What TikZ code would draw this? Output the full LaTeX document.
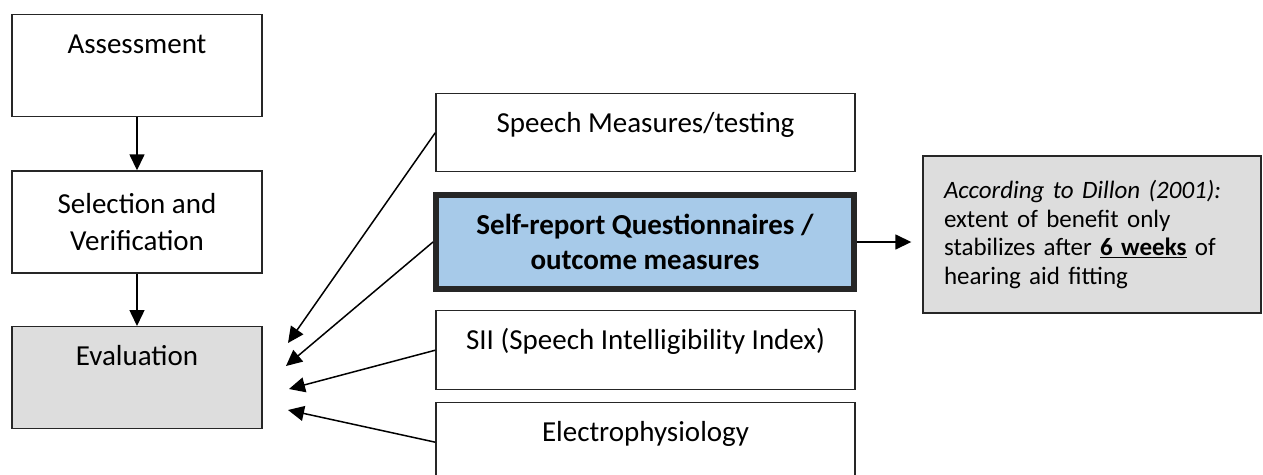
\documentclass[tikz,border=0pt]{standalone}
\usepackage{fontspec}
\setmainfont{Carlito}
\usetikzlibrary{arrows.meta}
\definecolor{evalgray}{RGB}{221,221,221}
\definecolor{selfblue}{RGB}{167,202,233}
\begin{document}
\begin{tikzpicture}[x=1pt,y=-1pt,
  every node/.style={font=\fontsize{29}{37}\selectfont},
  box/.style={draw=black!85,line width=1.4pt,inner xsep=0pt},
  topbox/.style={box,anchor=north,text height=39pt,text depth=#1,inner ysep=0pt},
  tip/.style={-{Triangle[length=16pt,width=15pt]},line width=1.5pt}]
\useasboundingbox (0,0) rectangle (1263,474);
\node[topbox=63pt,minimum width=250pt] (assess) at (137,14) {Assessment};
\node[box,minimum width=250pt,minimum height=102pt,align=center] (select) at (137,222) {Selection and\\Verification};
\node[topbox=63pt,minimum width=250pt,fill=evalgray] (eval) at (137,326) {Evaluation};
\node[topbox=39pt,minimum width=419pt] (speech) at (645.5,93) {Speech Measures/testing};
\node[box,line width=6pt,fill=selfblue,minimum width=418pt,minimum height=94pt,align=center,
  font=\bfseries\fontsize{29}{35}\selectfont] (selfrep) at (645,242) {Self-report Questionnaires /\\outcome measures};
\node[topbox=40pt,minimum width=419pt] (sii) at (645.5,310) {SII (Speech Intelligibility Index)};
\node[topbox=40pt,minimum width=419pt] (electro) at (645.5,402) {Electrophysiology};
\node[box,fill=evalgray,text width=296pt,inner xsep=21pt,minimum height=157pt,align=left,
  font=\fontsize{25}{28.5}\selectfont] (note) at (1092,234.5)
  {\textit{According to Dillon (2001):}\\extent of benefit only\\stabilizes after \underline{\textbf{6 weeks}} of\\hearing aid fitting};
\coordinate (ev1) at (288,343);
\coordinate (ev2) at (286,366);
\coordinate (ev3) at (289,389);
\coordinate (ev4) at (288,410);
\draw[tip] (assess) -- (select);
\draw[tip] (select) -- (eval);
\draw[tip,shorten >=11pt] (selfrep.east) -- (selfrep.east -| note.west);
\foreach \src/\dst in {speech/ev1,selfrep/ev2,sii/ev3,electro/ev4}
  \draw[tip] (\src.west) -- (\dst);
\end{tikzpicture}
\end{document}
